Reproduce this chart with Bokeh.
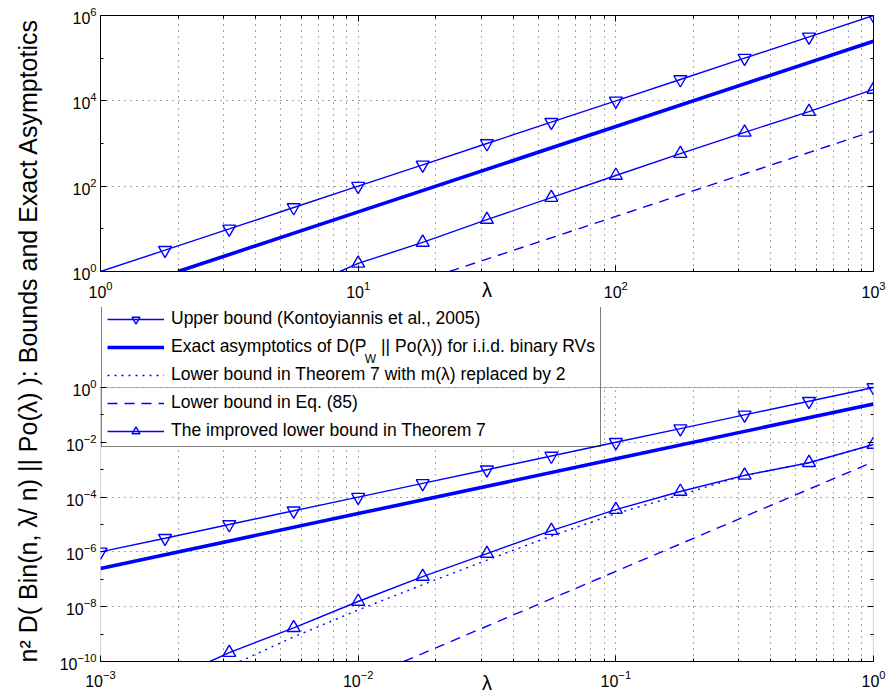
import math
from bokeh.plotting import figure
from bokeh.layouts import row, column
from bokeh.models import (Range1d, FixedTicker, Legend, LegendItem, Label, BoxAnnotation,
                          LogAxis, CustomJSTickFormatter)
from bokeh.embed import file_html
from bokeh.resources import INLINE

BLUE = "#0000ff"
FONT = "Liberation Sans"

# ---------------- data: top panel (lambda from 1 to 1000) ----------------
top_upper_lam = [1.0, 1.78, 3.16, 5.62, 10, 17.8, 31.6, 56.2, 100, 178, 316, 562, 1000]
top_upper_val = [1.0, 3.16, 10, 31.6, 100, 316, 1000, 3160, 1e4, 3.16e4, 1e5, 3.16e5, 1e6]
top_exact_lam = [2.0, 10, 100, 1000]
top_exact_val = [1.0, 25, 2500, 2.5e5]
top_eq85_lam = [22.6, 100, 1000]
top_eq85_val = [1.0, 19.5, 1950]
top_impr_lam = [8.5, 10, 17.8, 31.6, 56.2, 100, 178, 316, 562, 1000]
top_impr_val = [1.0, 1.55, 4.8, 16.5, 54, 178, 580, 1820, 5600, 1.85e4]

# ---------------- data: bottom panel (lambda from 1e-3 to 1) ----------------
bot_upper_lam = [1e-3, 1.78e-3, 3.16e-3, 5.62e-3, 0.01, 0.0178, 0.0316, 0.0562, 0.1, 0.178, 0.316, 0.562, 1.0]
bot_upper_val = [1e-6, 3.16e-6, 1e-5, 3.16e-5, 1e-4, 3.16e-4, 1e-3, 3.16e-3, 0.01, 0.0316, 0.1, 0.316, 1.0]
bot_exact_lam = [1e-3, 0.01, 0.1, 1.0]
bot_exact_val = [2.5e-7, 2.5e-5, 2.5e-3, 0.25]
bot_dot_lam = [3.47e-3, 5.62e-3, 0.01, 0.0178, 0.0316, 0.0562, 0.1, 0.178, 0.27, 0.316, 0.562, 1.0]
bot_dot_val = [1e-10, 7.9e-10, 7.6e-9, 6.3e-8, 5.0e-7, 3.8e-6, 2.5e-5, 1.2e-4, 4.0e-4, 6.2e-4, 1.8e-3, 8.3e-3]
bot_eq85_lam = [0.01504, 0.1, 1.0]
bot_eq85_val = [1e-10, 1.95e-7, 1.95e-3]
bot_impr_lam = [2.66e-3, 3.16e-3, 5.62e-3, 0.01, 0.0178, 0.0316, 0.0562, 0.1, 0.178, 0.316, 0.562, 1.0]
bot_impr_val = [1e-10, 2.1e-10, 1.7e-9, 1.55e-8, 1.26e-7, 8.7e-7, 6.0e-6, 3.5e-5, 1.6e-4, 6.2e-4, 1.8e-3, 8.3e-3]

# ---------------- ticks ----------------
top_x_ticks = [1, 10, 100, 1000]
top_x_minor = [m * 10.0 ** k for k in range(0, 3) for m in range(2, 10)]
top_y_ticks = [1, 1e2, 1e4, 1e6]
top_y_minor = [10, 1e3, 1e5]
bot_x_ticks = [1e-3, 1e-2, 1e-1, 1]
bot_x_minor = [m * 10.0 ** k for k in range(-3, 0) for m in range(2, 10)]
bot_y_ticks = [1e-10, 1e-8, 1e-6, 1e-4, 1e-2, 1]
bot_y_minor = [1e-9, 1e-7, 1e-5, 1e-3, 1e-1]

legend_labels = [
    "Upper bound (Kontoyiannis et al., 2005)",
    "Exact asymptotics of D(P\u00a0\u00a0 || Po(\u03bb)) for i.i.d. binary RVs",
    "Lower bound in Theorem 7 with m(\u03bb) replaced by 2",
    "Lower bound in Eq. (85)",
    "The improved lower bound in Theorem 7",
]
y_label_text = "n\u00b2 D( Bin(n, \u03bb/ n) || Po(\u03bb) ): Bounds and Exact Asymptotics"
x_label_text = "\u03bb"


def mirror_axis(ticker, line=True):
    return LogAxis(ticker=ticker, formatter=CustomJSTickFormatter(code='return ""'),
                   major_label_text_font_size="0px", major_label_standoff=0,
                   axis_label_standoff=0,
                   major_tick_in=6, major_tick_out=0, minor_tick_in=3, minor_tick_out=0,
                   axis_line_color="black" if line else None,
                   major_tick_line_color="black", minor_tick_line_color="black")


def style(p, xt, xm, yt, ym, tick_standoff, lab_standoff):
    xticker = FixedTicker(ticks=xt, minor_ticks=xm)
    yticker = FixedTicker(ticks=yt, minor_ticks=ym)
    ax = p.below[0]
    ay = p.left[0]
    ax.ticker = xticker
    ay.ticker = yticker
    for a in (ax, ay):
        a.major_tick_in = 6
        a.major_tick_out = 0
        a.minor_tick_in = 3
        a.minor_tick_out = 0
        a.axis_line_color = "black"
        a.major_tick_line_color = "black"
        a.minor_tick_line_color = "black"
        a.major_label_text_font = FONT
        a.major_label_text_font_size = "16px"
        a.major_label_text_color = "black"
    ax.major_label_standoff = tick_standoff
    ay.major_label_standoff = 4
    ax.axis_label = x_label_text
    ax.axis_label_text_font = FONT
    ax.axis_label_text_font_size = "20px"
    ax.axis_label_text_font_style = "normal"
    ax.axis_label_text_color = "black"
    ax.axis_label_standoff = lab_standoff
    p.xgrid.grid_line_color = "#222222"
    p.xgrid.grid_line_dash = "1 5"
    p.xgrid.grid_line_alpha = 0.8
    p.xgrid.minor_grid_line_color = "#222222"
    p.xgrid.minor_grid_line_dash = "1 5"
    p.xgrid.minor_grid_line_alpha = 0.8
    p.ygrid.grid_line_color = "#222222"
    p.ygrid.grid_line_dash = "1 5"
    p.ygrid.grid_line_alpha = 0.8
    p.ygrid.minor_grid_line_color = None
    p.background_fill_color = "white"
    return ax, ay, xticker, yticker


def draw_set(p, up_l, up_v, up_mark_from, ex_l, ex_v, eq_l, eq_v, im_l, im_v, dot=None):
    r = {}
    r["up_line"] = p.line(up_l, up_v, line_color=BLUE, line_width=1.4)
    r["up_mark"] = p.scatter(up_l[up_mark_from:], up_v[up_mark_from:], marker="inverted_triangle",
                             size=13, line_color=BLUE, fill_color=None, line_width=1.4)
    r["ex"] = p.line(ex_l, ex_v, line_color=BLUE, line_width=3.6)
    if dot is not None:
        r["dot"] = p.line(dot[0], dot[1], line_color=BLUE, line_width=1.4, line_dash="2 5")
    r["eq"] = p.line(eq_l, eq_v, line_color=BLUE, line_width=1.4, line_dash="10 7")
    r["im_line"] = p.line(im_l, im_v, line_color=BLUE, line_width=1.4)
    r["im_mark"] = p.scatter(im_l[1:], im_v[1:], marker="triangle", size=13,
                             line_color=BLUE, fill_color=None, line_width=1.4)
    return r


# ---------------- top panel (canvas x 52..888, y 0..306; frame 100..874 x 15..271) ----------------
top = figure(width=836, height=306, x_axis_type="log", y_axis_type="log",
             x_range=Range1d(1, 1000), y_range=Range1d(1, 1e6),
             toolbar_location=None, output_backend="svg",
             min_border_left=48, min_border_right=14, min_border_top=15, min_border_bottom=35)
_, _, txt, tyt = style(top, top_x_ticks, top_x_minor, top_y_ticks, top_y_minor, 9, -22)
top.add_layout(mirror_axis(txt), "above")
top.add_layout(mirror_axis(tyt), "right")
top.outline_line_color = "black"
draw_set(top, top_upper_lam, top_upper_val, 1, top_exact_lam, top_exact_val,
         top_eq85_lam, top_eq85_val, top_impr_lam, top_impr_val)

# ---------------- bottom panel (canvas y 306..698; frame 97..873 x 307..661) ----------------
# data 1e-10..1 occupies screen y 387..661 (27.4 px per decade); the frame is extended
# upward to host the legend, which in the original overlaps the gap between the panels
BOT_FRAME_TOP, BOT_FRAME_BOTTOM, BOT_DEC = 307, 661, 27.4
bot_y_top = 10 ** (-10 + (BOT_FRAME_BOTTOM - BOT_FRAME_TOP) / BOT_DEC)
bot = figure(width=836, height=392, x_axis_type="log", y_axis_type="log",
             x_range=Range1d(1e-3, 1), y_range=Range1d(1e-10, bot_y_top),
             toolbar_location=None, output_backend="svg",
             min_border_left=45, min_border_right=15, min_border_top=1, min_border_bottom=37)
bax, bay, bxt, byt = style(bot, bot_x_ticks, bot_x_minor, bot_y_ticks, bot_y_minor, 8, -18)
bay.axis_line_color = None
bot.add_layout(mirror_axis(byt, line=False), "right")
bot.outline_line_color = None


def bot_px(px, py):
    return 10 ** (-3 + (px - 97) / 259.33), 10 ** (-10 + (BOT_FRAME_BOTTOM - py) / BOT_DEC)


# white cover above the data area, white legend background where it overlaps the data area,
# then the axes box
bot.add_layout(BoxAnnotation(bottom=1.0, fill_color="white", fill_alpha=1.0,
                             line_alpha=0, level="underlay"))
leg_r, leg_b = bot_px(599, 447)
bot.add_layout(BoxAnnotation(left=1e-3, right=leg_r, bottom=leg_b, top=1.0,
                             fill_color="white", fill_alpha=1.0,
                             line_alpha=0, level="underlay"))
bot.add_layout(BoxAnnotation(left=1e-3, right=1.0, bottom=1e-10, top=1.0, fill_alpha=0,
                             line_color="black", line_width=1.2, level="underlay"))

rb = draw_set(bot, bot_upper_lam, bot_upper_val, 0, bot_exact_lam, bot_exact_val,
              bot_eq85_lam, bot_eq85_val, bot_impr_lam, bot_impr_val,
              dot=(bot_dot_lam, bot_dot_val))

items = [
    LegendItem(label=legend_labels[0], renderers=[rb["up_line"], rb["up_mark"]]),
    LegendItem(label=legend_labels[1], renderers=[rb["ex"]]),
    LegendItem(label=legend_labels[2], renderers=[rb["dot"]]),
    LegendItem(label=legend_labels[3], renderers=[rb["eq"]]),
    LegendItem(label=legend_labels[4], renderers=[rb["im_line"], rb["im_mark"]]),
]
legend = Legend(items=items, location=(1, 214), margin=0, padding=5, spacing=7,
                glyph_width=57, glyph_height=20, label_height=20, label_standoff=7,
                label_text_font=FONT, label_text_font_size="17.5px", label_text_color="black",
                border_line_color="black", border_line_width=1, background_fill_alpha=0.0)
bot.add_layout(legend, "center")

wx, wy = bot_px(363, 358)
bot.add_layout(Label(x=wx, y=wy, text="W", text_font=FONT, text_font_size="12px",
                     text_align="left", text_baseline="middle", text_color="black",
                     level="overlay"))

# ---------------- shared y label (canvas x 0..52) ----------------
ylab = figure(width=52, height=698, x_range=Range1d(0, 52), y_range=Range1d(0, 698),
              toolbar_location=None, output_backend="svg", min_border=0,
              x_axis_location=None, y_axis_location=None)
ylab.grid.visible = False
ylab.outline_line_color = None
ylab.add_layout(Label(x=27, y=698 - 340, text=y_label_text, angle=math.pi / 2,
                      text_font=FONT, text_font_size="25px", text_align="center",
                      text_baseline="middle", text_color="black"))

layout = row(ylab, column(top, bot))
open("out.html", "w").write(file_html(layout, INLINE))
